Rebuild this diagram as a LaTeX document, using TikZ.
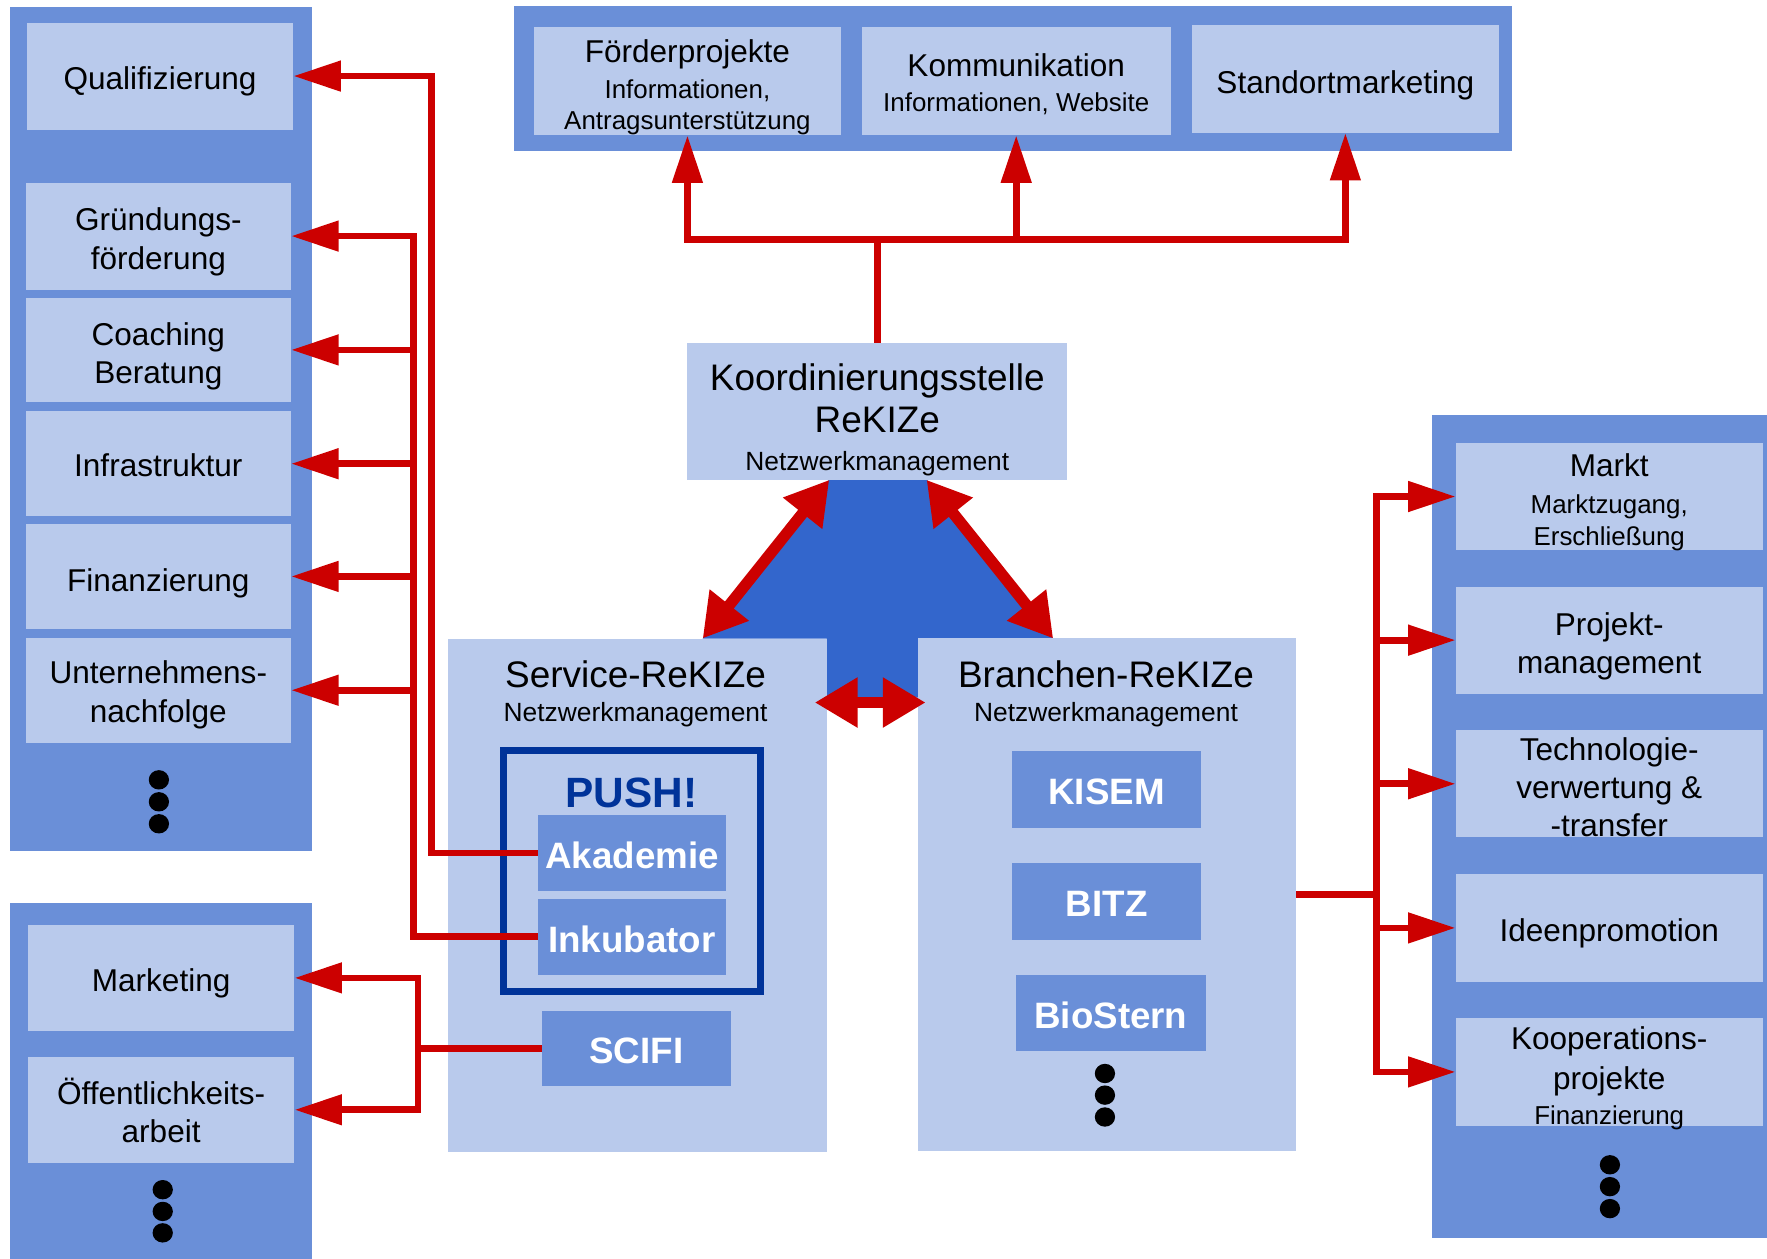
\documentclass[tikz,border=0pt]{standalone}
\usepackage{fontspec}
\setmainfont{Liberation Sans}
\usetikzlibrary{arrows.meta}
\definecolor{midblue}{HTML}{6A8FD8}
\definecolor{lightblue}{HTML}{B9CAEC}
\definecolor{darkblue}{HTML}{3366CC}
\definecolor{pushblue}{HTML}{003399}
\definecolor{arrowred}{HTML}{CC0000}
% text label placed in a named box, shifted down by #3 pixels
\newcommand{\boxtext}[4][]{\node[itemtext,#1] (#2-t) at ([yshift=-#3*0.5pt]#2.center) {#4};}
\begin{document}
\begin{tikzpicture}[x=0.5pt,y=-0.5pt,
  sz/.style 2 args={minimum width=#1*0.5pt, minimum height=#2*0.5pt},
  grp/.style={fill=midblue, inner sep=0pt},
  item/.style={fill=lightblue, inner sep=0pt},
  itemtext/.style={inner sep=0pt, align=center, font=\fontsize{14}{17}\selectfont},
  small/.style={font=\fontsize{11.5}{14}\selectfont},
  panel/.style={fill=lightblue, inner sep=0pt},
  dkbox/.style={fill=midblue, inner sep=0pt},
  dktext/.style={inner sep=0pt, text=white, font=\bfseries\fontsize{16.3}{19}\selectfont},
  title/.style={inner sep=0pt, font=\fontsize{16.4}{19}\selectfont},
  subtitle/.style={inner sep=0pt, font=\fontsize{11.7}{14}\selectfont},
  conn/.style={draw=arrowred, line width=3pt},
  redtip/.tip={Triangle[length=21pt,width=13pt]},
  bigtip/.tip={Triangle[length=19pt,width=21pt]},
  bigconn/.style={draw=arrowred, line width=5pt, {bigtip}-{bigtip}},
  dot/.style={fill=black}
]
\useasboundingbox (0,0) rectangle (1568,1117);

% ---------- group backgrounds ----------
\node[grp, sz={268.2}{749.5}] (grpL1) at (142.9,380.75) {};
\node[grp, sz={268.2}{316}] (grpL2) at (142.9,959) {};
\node[grp, sz={885.7}{128.4}] (grpT) at (899.15,69.5) {};
\node[grp, sz={297.3}{730.5}] (grpR) at (1419.35,733.25) {};

% ---------- central dark blue area ----------
\fill[darkblue] (735.9,425.3) -- (822.2,425.3) -- (934.6,566.6) -- (814.4,566.6)
  -- (814.4,619) -- (733.8,619) -- (733.8,566.6) -- (623.5,566.6) -- cycle;

% ---------- left upper items ----------
\node[item, sz={236}{95}] (qual) at (142,67.5) {};
\boxtext{qual}{5}{Qualifizierung}
\node[item, sz={235}{95}] (gruend) at (140.5,209.5) {};
\boxtext{gruend}{5}{Gründungs-\\förderung}
\node[item, sz={235}{93}] (coach) at (140.5,310.5) {};
\boxtext{coach}{6}{Coaching\\Beratung}
\node[item, sz={235}{93}] (infra) at (140.5,411.5) {};
\boxtext{infra}{1}{Infrastruktur}
\node[item, sz={235}{93}] (finanz) at (140.5,511.5) {};
\boxtext{finanz}{6}{Finanzierung}
\node[item, sz={235}{93}] (unter) at (140.5,612.5) {};
\boxtext{unter}{4}{Unternehmens-\\nachfolge}
\fill[dot] (141,692) ellipse[x radius=4.5pt, y radius=4.3pt];
\fill[dot] (141,711.5) ellipse[x radius=4.5pt, y radius=4.3pt];
\fill[dot] (141,731) ellipse[x radius=4.5pt, y radius=4.3pt];

% ---------- left lower items ----------
\node[item, sz={236}{93.5}] (market) at (143,867.75) {};
\boxtext{market}{5}{Marketing}
\node[item, sz={236}{93.6}] (oeff) at (143,984.8) {};
\boxtext{oeff}{0.5}{Öffentlichkeits-\\arbeit}
\fill[dot] (144.4,1055.7) ellipse[x radius=4.5pt, y radius=4.3pt];
\fill[dot] (144.4,1075) ellipse[x radius=4.5pt, y radius=4.3pt];
\fill[dot] (144.4,1094) ellipse[x radius=4.5pt, y radius=4.3pt];

% ---------- top items ----------
\node[item, sz={272.6}{95.8}] (foerder) at (610,71.9) {};
\boxtext[small]{foerder}{5.5}{{\fontsize{14}{17}\selectfont Förderprojekte}\\[2pt]Informationen,\\Antragsunterstützung}
\node[item, sz={274.3}{95.8}] (komm) at (901.75,71.9) {};
\boxtext[small]{komm}{3}{{\fontsize{14}{17}\selectfont Kommunikation}\\[1.5pt]Informationen, Website}
\node[item, sz={272.3}{95.7}] (stand) at (1193.85,69.85) {};
\boxtext{stand}{6}{Standortmarketing}

% ---------- coordination ----------
\node[item, sz={337}{121.5}] (koord) at (778.5,365.25) {};
\boxtext[font=\fontsize{16.4}{18.7}\selectfont]{koord}{7}{Koordinierungsstelle\\ReKIZe\\[-2pt]{\fontsize{11.7}{14}\selectfont Netzwerkmanagement}}

% ---------- right items ----------
\node[item, sz={272}{95.6}] (markt) at (1428,440.6) {};
\boxtext[small]{markt}{5}{{\fontsize{14}{17}\selectfont Markt}\\[2.5pt]Marktzugang,\\Erschließung}
\node[item, sz={272}{95.1}] (projekt) at (1428,568.05) {};
\boxtext{projekt}{5.5}{Projekt-\\management}
\node[item, sz={272}{95}] (tech) at (1428,695.5) {};
\boxtext{tech}{3}{Technologie-\\verwertung \&\\-transfer}
\node[item, sz={272}{95.2}] (ideen) at (1428,823.4) {};
\boxtext{ideen}{5}{Ideenpromotion}
\node[item, sz={272}{95.6}] (koop) at (1428,951.2) {};
\boxtext[font=\fontsize{14}{18}\selectfont]{koop}{5.5}{Kooperations-\\projekte\\[-2.5pt]{\fontsize{11.5}{14}\selectfont Finanzierung}}
\fill[dot] (1428.6,1033.6) ellipse[x radius=4.5pt, y radius=4.3pt];
\fill[dot] (1428.6,1053) ellipse[x radius=4.5pt, y radius=4.3pt];
\fill[dot] (1428.6,1072.5) ellipse[x radius=4.5pt, y radius=4.3pt];

% ---------- Service-ReKIZe ----------
\node[panel, sz={336.3}{455.4}] (service) at (565.65,794.3) {};
\node[title] (svtitle) at (564,598) {Service-ReKIZe};
\node[subtitle] (svsub) at (564,634) {Netzwerkmanagement};
\node[draw=pushblue, line width=3.3pt, inner sep=0pt, sz={228}{214}] (push) at (561,773) {};
\node[inner sep=0pt, text=pushblue, font=\bfseries\fontsize{18.8}{22}\selectfont] (pushlbl) at (560.5,703.5) {PUSH!};
\node[dkbox, sz={166.4}{68}] (akad) at (560.8,757) {};
\boxtext[dktext]{akad}{2}{Akademie}
\node[dkbox, sz={166.4}{67.2}] (inku) at (560.8,831.2) {};
\boxtext[dktext]{inku}{2.5}{Inkubator}
\node[dkbox, sz={167.5}{67}] (scifi) at (564.75,930.5) {};
\boxtext[dktext]{scifi}{2}{SCIFI}

% ---------- Branchen-ReKIZe ----------
\node[panel, sz={335.6}{455}] (branchen) at (982.2,794) {};
\node[title] (brtitle) at (981.4,598) {Branchen-ReKIZe};
\node[subtitle] (brsub) at (981.4,634) {Netzwerkmanagement};
\node[dkbox, sz={168}{67.7}] (kisem) at (982,700.5) {};
\boxtext[dktext]{kisem}{2}{KISEM}
\node[dkbox, sz={168}{67.8}] (bitz) at (982,800) {};
\boxtext[dktext]{bitz}{2}{BITZ}
\node[dkbox, sz={168.5}{67.3}] (bio) at (985.75,899.15) {};
\boxtext[dktext]{bio}{2}{BioStern}
\fill[dot] (980.5,952.6) ellipse[x radius=4.5pt, y radius=4.3pt];
\fill[dot] (980.5,971.8) ellipse[x radius=4.5pt, y radius=4.3pt];
\fill[dot] (980.5,991.2) ellipse[x radius=4.5pt, y radius=4.3pt];

% ---------- connectors: left ----------
\coordinate (jQ) at (383,67.5);
\draw[conn, {redtip}-] (qual.east) -- (jQ) |- (akad.west);
\coordinate (jG) at (367,209.5);
\draw[conn, {redtip}-] (gruend.east) -- (jG) |- (inku.west);
\draw[conn, -{redtip}] (jG |- coach.east) -- (coach.east);
\draw[conn, -{redtip}] (jG |- infra.east) -- (infra.east);
\draw[conn, -{redtip}] (jG |- finanz.east) -- (finanz.east);
\draw[conn, -{redtip}] (jG |- unter.east) -- (unter.east);

\coordinate (jM) at (371,867.75);
\coordinate (jO) at (371,984.8);
\draw[conn, {redtip}-{redtip}] (market.east) -- (jM) -- (jO) -- (oeff.east);
\draw[conn] (scifi.west) -- (scifi.west -| jM);

% ---------- connectors: top ----------
\coordinate (jT) at (778.5,212.4);
\draw[conn] (koord.north) -- (jT);
\draw[conn, {redtip}-{redtip}] (foerder.south) |- (jT) -| (stand.south);
\draw[conn, -{redtip}] (komm.south |- jT) -- (komm.south);

% ---------- connectors: right ----------
\coordinate (jR1) at (1221.6,440.6);
\coordinate (jR5) at (1221.6,951.2);
\draw[conn, {redtip}-{redtip}] (markt.west) -- (jR1) -- (jR5) -- (koop.west);
\draw[conn] (branchen.east) -- (branchen.east -| jR1);
\draw[conn, -{redtip}] (jR1 |- projekt.west) -- (projekt.west);
\draw[conn, -{redtip}] (jR1 |- tech.west) -- (tech.west);
\draw[conn, -{redtip}] (jR1 |- ideen.west) -- (ideen.west);

% ---------- central double arrows ----------
\coordinate (tKL) at (735.9,425.8);
\coordinate (tKR) at (822.2,425.8);
\coordinate (tS) at (623.5,566.6);
\coordinate (tB) at (934.6,566.6);
\coordinate (hL) at (723,623.4);
\coordinate (hR) at (821.4,623.4);
\draw[bigconn] (tKL) -- (tS);
\draw[bigconn] (tKR) -- (tB);
\draw[bigconn] (hL) -- (hR);
\end{tikzpicture}
\end{document}
